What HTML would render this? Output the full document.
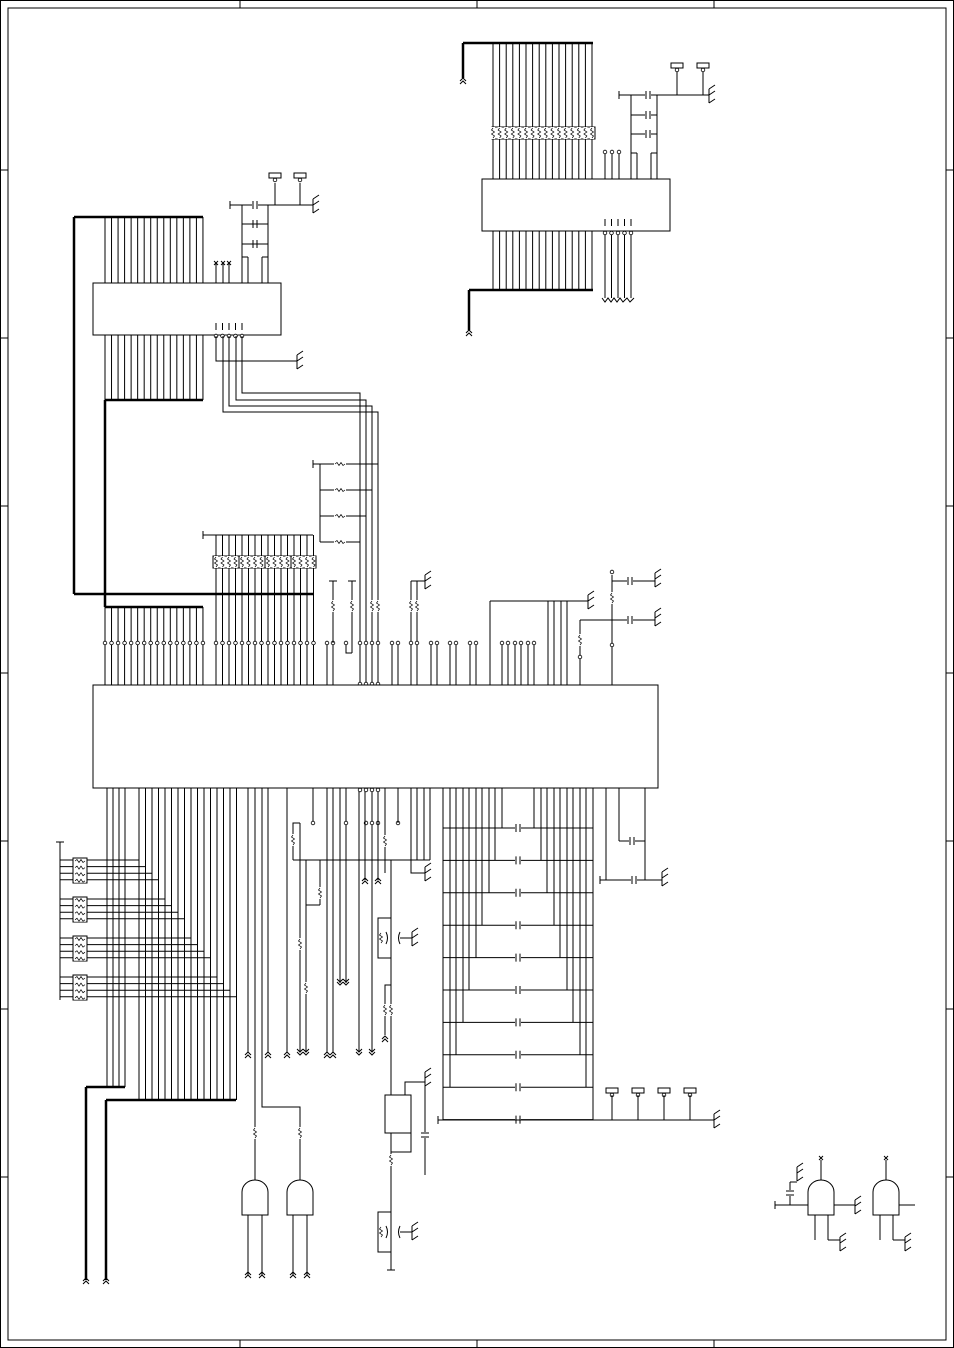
<!DOCTYPE html>
<html><head><meta charset="utf-8"><style>
html,body{margin:0;padding:0;background:#fff;}
svg{display:block;}
</style></head><body>
<svg id="s" width="954" height="1348" viewBox="0 0 954 1348" xmlns="http://www.w3.org/2000/svg"></svg>
<script>
var o=[];
function L(a,b,c,d,w){o.push('<line x1="'+a+'" y1="'+b+'" x2="'+c+'" y2="'+d+'" stroke="#000" stroke-width="'+(w||1)+'"/>');}
function P(pts,w){o.push('<polyline points="'+pts+'" fill="none" stroke="#000" stroke-width="'+(w||1)+'"/>');}
function Rc(x,y,w,h,f){o.push('<rect x="'+x+'" y="'+y+'" width="'+w+'" height="'+h+'" fill="'+(f||'#fff')+'" stroke="#000" stroke-width="1"/>');}
function Ci(x,y){o.push('<circle cx="'+x+'" cy="'+y+'" r="1.8" fill="#fff" stroke="#000" stroke-width="0.8"/>');}
function Rv(x,y){o.push('<rect x="'+(x-2)+'" y="'+(y-6)+'" width="4" height="12" fill="#fff"/>');P((x)+','+(y-5)+' '+(x-1.5)+','+(y-3)+' '+(x+1.5)+','+(y-1)+' '+(x-1.5)+','+(y+1)+' '+(x+1.5)+','+(y+3)+' '+x+','+(y+5),0.7);}
function Rh(x,y){o.push('<rect x="'+(x-6)+'" y="'+(y-2)+'" width="12" height="4" fill="#fff"/>');P((x-5)+','+y+' '+(x-3)+','+(y-1.5)+' '+(x-1)+','+(y+1.5)+' '+(x+1)+','+(y-1.5)+' '+(x+3)+','+(y+1.5)+' '+(x+5)+','+y,0.7);}
function Ch(x,y){o.push('<rect x="'+(x-3)+'" y="'+(y-4)+'" width="6" height="8" fill="#fff"/>');L(x-2,y-4,x-2,y+4);L(x+2,y-4,x+2,y+4);}
function Cv(x,y){o.push('<rect x="'+(x-4)+'" y="'+(y-3)+'" width="8" height="6" fill="#fff"/>');L(x-4,y-2,x+4,y-2);L(x-4,y+2,x+4,y+2);}
function G(x,y){L(x,y-8,x,y+6);L(x,y-8,x+6,y-12);L(x,y-2,x+6,y-6);L(x,y+6,x+6,y+2);}
function Au(x,y){P((x-3)+','+(y+3)+' '+x+','+y+' '+(x+3)+','+(y+3));P((x-3)+','+(y+6)+' '+x+','+(y+3)+' '+(x+3)+','+(y+6));}
function Ad(x,y){P((x-3)+','+(y-3)+' '+x+','+y+' '+(x+3)+','+(y-3));P((x-3)+','+(y-6)+' '+x+','+(y-3)+' '+(x+3)+','+(y-6));}
function Pad(x,y){Rc(x-6,y,12,5);Ci(x,y+7);}
function X(x,y){L(x-2,y-2,x+2,y+2);L(x-2,y+2,x+2,y-2);}
function gate(x,y){o.push('<path d="M'+x+','+(y+35)+' L'+x+','+(y+12)+' A13,12 0 0 1 '+(x+26)+','+(y+12)+' L'+(x+26)+','+(y+35)+' Z" fill="#fff" stroke="#000"/>');}

Rc(0.5,0.5,953,1347);Rc(8,8,938,1332);
[240,477,714].forEach(function(x){L(x,0,x,8);L(x,1340,x,1348);});
[170,338,506,673,841,1009,1177].forEach(function(y){L(0,y,8,y);L(946,y,954,y);});

var i,x;
var gA=[];for(i=0;i<16;i++)gA.push(105+i*6.53);
gA.forEach(function(x){L(x,217,x,283);L(x,335,x,400);L(x,607,x,685);Ci(x,643);});
L(74,217,203,217,2.5);L(74,217,74,594,2.5);L(74,594,314,594,2.5);
L(105,400,203,400,2.5);L(105,400,105,607,2.5);L(105,607,203,607,2.5);
Rc(93,283,188,52);
[216,223,229].forEach(function(x){L(x,263,x,283);X(x,263);});
L(242,257,242,283);L(248,257,248,283);L(242,257,248,257);
L(262,257,262,283);L(268,257,268,283);L(262,257,268,257);
L(242,205,242,257);L(268,205,268,257);
L(230,205,313,205);L(230,201,230,209);Ch(255,205);Ch(255,224);Ch(255,244);L(242,224,268,224);L(242,244,268,244);
G(313,207);L(275,183,275,205);L(300,183,300,205);Pad(275,173);Pad(300,173);
for(i=0;i<5;i++){x=216+i*6.5;L(x,323,x,330);Ci(x,336);}
P('216,336 216,361 297,361');G(297,363);
P('223,336 223,412 378,412 378,685');P('229,336 229,406 372,406 372,685');
P('236,336 236,400 366,400 366,685');P('242,336 242,393 360,393 360,685');
L(313,464,378,464);L(320,490,372,490);L(320,516,366,516);L(320,542,360,542);L(320,464,320,542);L(313,460,313,468);
[464,490,516,542].forEach(function(y){Rh(340,y);});
var gB=[];for(i=0;i<16;i++)gB.push(216+i*6.5);
L(203,535,313,535);L(203,531,203,539);
gB.forEach(function(x){L(x,535,x,685);Ci(x,643);});
Rc(213,556,103,12);gB.forEach(function(x){Rv(x,562);});L(239,556,239,568);L(265,556,265,568);L(291,556,291,568);
[327,333].forEach(function(x){L(x,643,x,685);Ci(x,643);});
L(333,581,333,643);L(329,581,337,581);Rv(333,606);
L(352,581,352,653);L(348,581,356,581);Rv(352,606);P('346,643 346,653 352,653');Ci(346,643);
[360,366,372,378].forEach(function(x){Ci(x,643);Ci(x,684);});Rv(372,606);Rv(378,606);
[392,398,431,437,450,456,470,476].forEach(function(x){L(x,643,x,685);Ci(x,643);});
[411,417].forEach(function(x){L(x,581,x,685);Ci(x,643);Rv(x,606);});L(411,581,425,581);G(425,583);
L(490,601,490,685);L(490,601,588,601);G(588,603);
[502,508,515,521,528,534].forEach(function(x){L(x,643,x,685);Ci(x,643);});
[548,554,561,567].forEach(function(x){L(x,601,x,685);});
L(612,575,612,685);Ci(612,572);Rv(612,598);L(612,581,655,581);Ch(630,581);G(655,581);
L(580,620,655,620);Ch(630,620);G(655,620);L(580,620,580,685);Rv(580,640);Ci(580,657);Ci(612,645);
Rc(93,685,565,103);
[107,113,119,125].forEach(function(x){L(x,788,x,1087);});
L(86,1087,125,1087,2.5);L(86,1087,86,1280,2.5);Au(86,1278);
var gC=[];for(i=0;i<16;i++)gC.push(139+i*6.5);
gC.forEach(function(x,k){var yy=860+Math.floor(k/4)*39+(k%4)*6.6;L(x,788,x,1100);L(60,yy,x,yy);});
L(106,1100,236,1100,2.5);L(106,1100,106,1280,2.5);Au(106,1278);
L(60,842,60,1000);L(56,842,64,842);
[858,897,936,975].forEach(function(y){Rc(73,y,14,25);for(i=0;i<4;i++)Rh(80,y+3+i*6.6);});
L(248,788,248,1052);Au(248,1052);
L(255,788,255,1180);Rv(255,1133);
P('262,788 262,1107 300,1107 300,1180');Rv(300,1133);
L(268,788,268,1052);Au(268,1052);
L(287,788,287,1052);Au(287,1052);
gate(242,1180);gate(287,1180);
[248,262,293,307].forEach(function(x){L(x,1215,x,1275);Au(x,1272);});
L(300,823,300,1052);Rv(300,944);L(306,860,306,1052);Rv(306,988);Ad(300,1055);Ad(306,1055);
L(313,788,313,823);Ci(313,823);P('293,860 293,823 300,823');Rv(293,840);
L(320,860,320,905);Rv(320,893);P('320,905 306,905');
L(327,788,327,1052);Au(327,1052);L(333,788,333,1052);Au(333,1052);
L(340,788,340,983);Ad(340,985);L(346,788,346,983);Ad(346,985);Ci(346,823);
L(359,788,359,1052);Ad(359,1055);L(372,788,372,1052);Ad(372,1055);Ci(366,823);Ci(372,823);Ci(378,823);
L(365,788,365,880);Au(365,878);L(378,788,378,880);Au(378,878);Ci(360,790);Ci(366,790);Ci(372,790);Ci(378,790);
L(385,788,385,873);Rv(385,841);Ci(398,823);L(398,788,398,823);
L(293,860,430,860);
[411,417,424,430].forEach(function(x){L(x,788,x,860);});P('411,860 411,873 425,873');G(425,875);
L(391,860,391,1270);L(387,1270,395,1270);
P('391,918 378,918 378,958 391,958');Rv(381,938);o.push('<path d="M386,932 Q389,938 386,944" fill="none" stroke="#000"/>');o.push('<path d="M400,932 Q397,938 400,944" fill="none" stroke="#000"/>');L(400,938,412,938);G(412,940);
P('391,985 385,985 385,1035');Rv(385,1010);Rv(391,1010);Au(385,1036);
Rc(385,1095,26,38);P('405,1095 405,1082 425,1082');L(425,1082,425,1175);G(425,1080);Cv(425,1135);
Rv(391,1160);P('391,1152 411,1152 411,1133');
P('391,1212 378,1212 378,1252 391,1252');Rv(381,1232);o.push('<path d="M386,1226 Q389,1232 386,1238" fill="none" stroke="#000"/>');o.push('<path d="M400,1226 Q397,1232 400,1238" fill="none" stroke="#000"/>');L(400,1232,412,1232);G(412,1234);
var lx=[443,450,456,463,469,476,482,489,495,502],rx=[534,541,547,554,560,567,573,580,586];
lx.forEach(function(x,k){L(x,788,x,828+(9-k)*32.4);});
for(i=0;i<10;i++){var y=828+i*32.4;L(443,y,593,y);Ch(518,y);}
rx.forEach(function(x,k){L(x,788,x,828+k*32.4);});
L(593,788,593,1120);L(438,1120,714,1120);L(438,1116,438,1124);
L(606,788,606,880);L(619,788,619,841);L(645,788,645,880);L(619,841,645,841);Ch(632,841);
L(600,880,662,880);L(600,876,600,884);Ch(634,880);G(662,880);
[612,638,664,690].forEach(function(x){Pad(x,1088);L(x,1095,x,1120);});G(714,1122);
var gD=[];for(i=0;i<16;i++)gD.push(493+i*6.6);
gD.forEach(function(x){L(x,43,x,179);L(x,231,x,290);});
L(463,43,593,43,2.5);L(463,43,463,78,2.5);Au(463,78);
L(469,290,593,290,2.5);L(469,290,469,330,2.5);Au(469,330);
Rc(492,127,103,12);gD.forEach(function(x){Rv(x,133);});
Rc(482,179,188,52);
[605,612,619].forEach(function(x){L(x,154,x,179);Ci(x,152);});
L(631,95,631,179);L(657,95,657,179);L(619,95,709,95);L(619,91,619,99);Ch(648,95);G(709,97);
L(631,115,657,115);Ch(648,115);L(631,134,657,134);Ch(648,134);
L(631,153,637,153);L(637,153,637,179);L(651,153,657,153);L(651,153,651,179);
L(677,70,677,95);L(703,70,703,95);Pad(677,63);Pad(703,63);
for(i=0;i<5;i++){x=605+i*6.5;L(x,219,x,226);Ci(x,233);L(x,235,x,298);}
P('602,298 605,302 608,298 611,302 614,298 617,302 620,298 623,302 627,298 630,302 634,298');
gate(808,1180);gate(873,1180);
L(821,1160,821,1180);X(821,1158);L(886,1160,886,1180);X(886,1158);
L(775,1205,808,1205);L(775,1201,775,1209);L(790,1182,790,1205);Cv(790,1193);P('790,1182 797,1182');G(797,1175);
L(834,1205,855,1205);G(855,1208);L(899,1205,915,1205);
L(815,1215,815,1240);L(828,1215,828,1240);L(828,1240,840,1240);G(840,1245);
L(880,1215,880,1240);L(893,1215,893,1240);L(893,1240,905,1240);G(905,1245);
document.getElementById('s').innerHTML=o.join('');
</script>
</body></html>
